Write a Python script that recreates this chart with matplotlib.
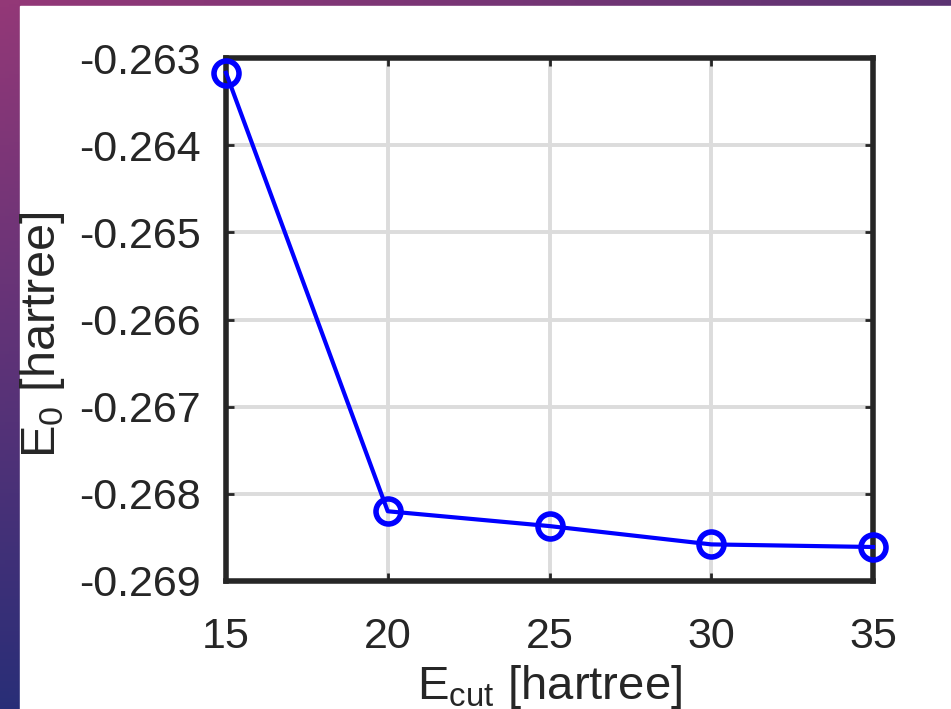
import numpy as np
import matplotlib
matplotlib.use("Agg")
import matplotlib.pyplot as plt
from matplotlib.patches import Rectangle

plt.rcParams['font.family'] = ['Liberation Sans', 'DejaVu Sans']

ecut = [15, 20, 25, 30, 35]
e0 = [-0.26317, -0.26820, -0.26837, -0.26858, -0.26861]
xticks = [15, 20, 25, 30, 35]
yticks = [-0.269, -0.268, -0.267, -0.266, -0.265, -0.264, -0.263]
ytick_labels = ['-0.269', '-0.268', '-0.267', '-0.266', '-0.265', '-0.264', '-0.263']

W, H = 951, 709
fig = plt.figure(figsize=(W / 100, H / 100), dpi=100)

# background gradient (slide)
bg = fig.add_axes([0, 0, 1, 1])
bg.set_axis_off()
yy, xx = np.mgrid[0:1:200j, 0:1:200j]
c_tl = np.array([0.58, 0.22, 0.47])
c_tr = np.array([0.36, 0.20, 0.45])
c_bl = np.array([0.16, 0.18, 0.47])
c_br = np.array([0.20, 0.18, 0.45])
img = ((1 - xx)[..., None] * (1 - yy)[..., None] * c_tl + xx[..., None] * (1 - yy)[..., None] * c_tr
       + (1 - xx)[..., None] * yy[..., None] * c_bl + xx[..., None] * yy[..., None] * c_br)
bg.imshow(img, extent=[0, 1, 0, 1], aspect='auto', origin='upper')
bg.add_patch(Rectangle((20 / W, 0), 1, (H - 6) / H, color='white', transform=bg.transAxes))
bg.set_xlim(0, 1)
bg.set_ylim(0, 1)

ax = fig.add_axes([226 / W, 1 - 581 / H, (873 - 226) / W, (581 - 58) / H])
ax.set_facecolor('white')
ax.plot(ecut, e0, color='#0000ff', lw=3, marker='o', markersize=18,
        markerfacecolor='none', markeredgecolor='#0000ff', markeredgewidth=4,
        clip_on=False, zorder=5)
ax.set_xlim(15, 35)
ax.set_ylim(-0.269, -0.263)
ax.set_xticks(xticks)
ax.set_yticks(yticks)
ax.set_yticklabels(ytick_labels)
ax.grid(True, color='#dcdcdc', lw=2.8)
ax.set_axisbelow(True)
for s in ax.spines.values():
    s.set_linewidth(4)
    s.set_color('#262626')
ax.tick_params(direction='in', length=6, width=2, colors='#262626', labelsize=31,
               top=True, right=True)
ax.tick_params(axis='x', pad=26)
ax.tick_params(axis='y', pad=18)
ax.set_xlabel('E$_\\mathregular{cut}$ [hartree]', fontsize=34, color='#262626', labelpad=4)
ax.set_ylabel('E$_\\mathregular{0}$ [hartree]', fontsize=35, color='#262626')
ax.yaxis.set_label_coords(-0.245, 0.47)

fig.savefig('out.png', dpi=100)
